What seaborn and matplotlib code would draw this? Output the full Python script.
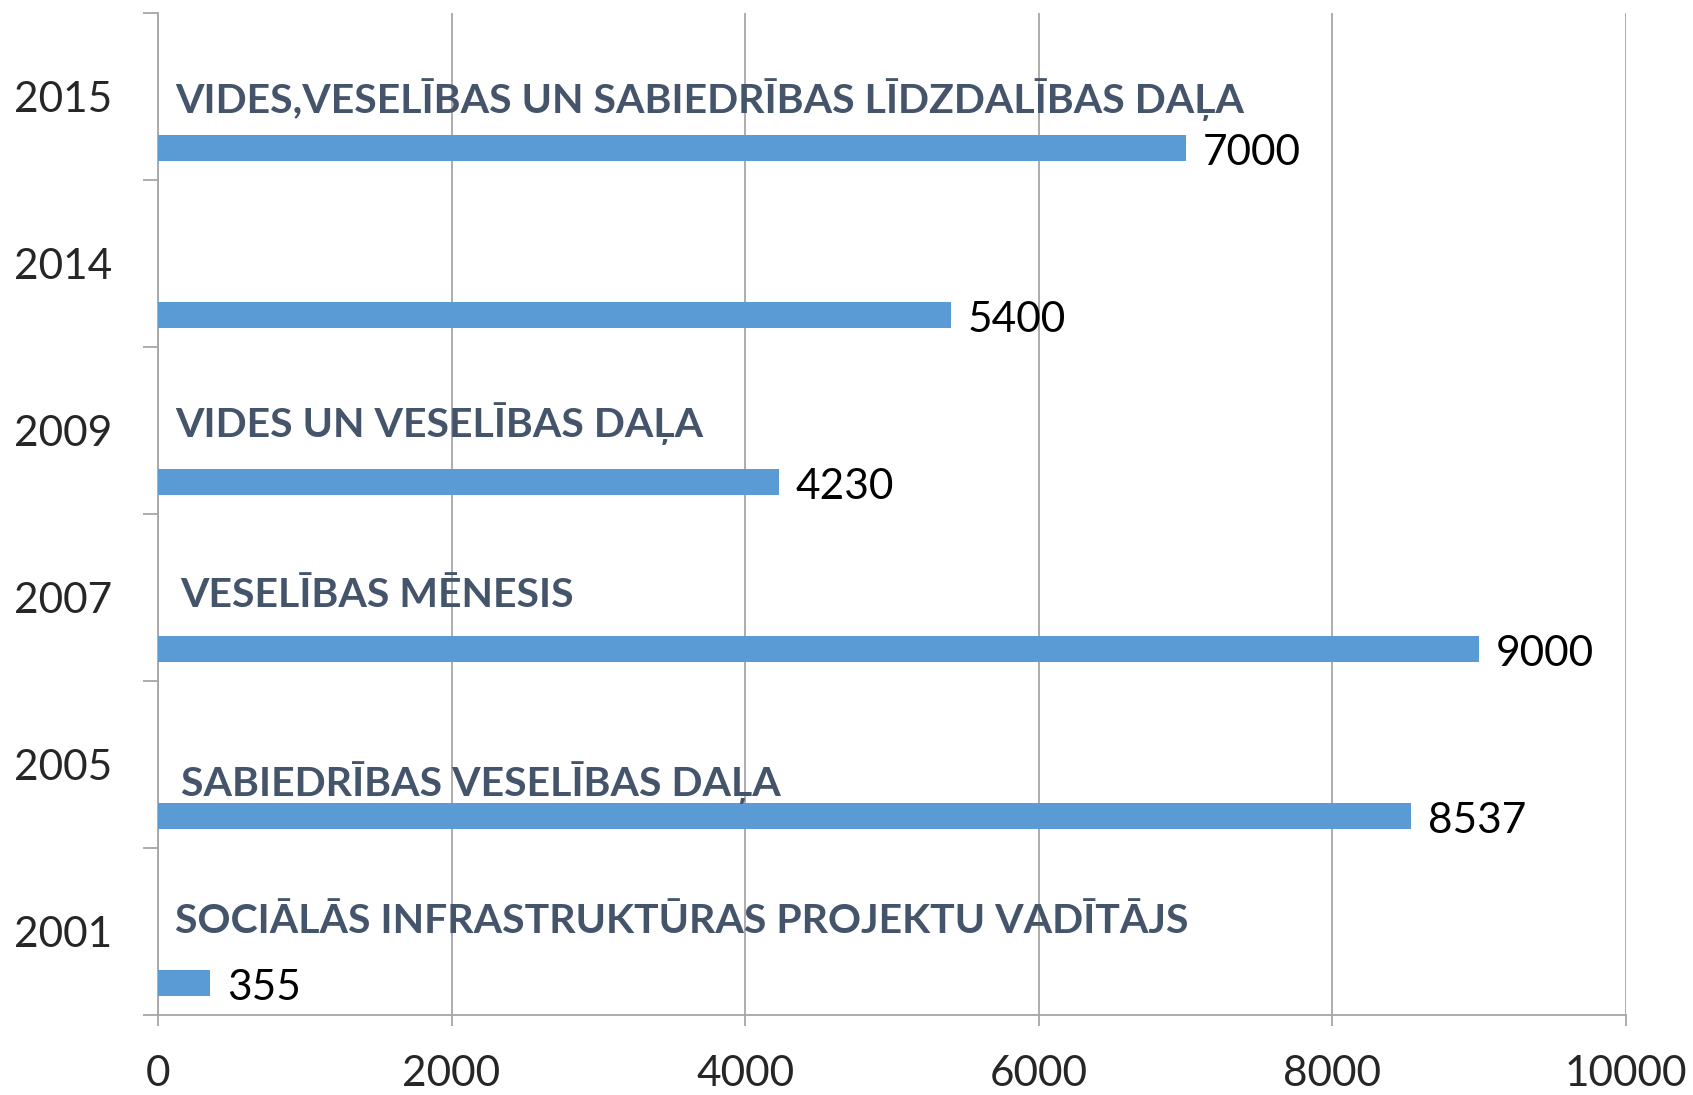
import seaborn as sns
import matplotlib.pyplot as plt
import pandas as pd

# dati
years = ["2015", "2014", "2009", "2007", "2005", "2001"]
values = [7000, 5400, 4230, 9000, 8537, 355]
titles = [
    "VIDES,VESELĪBAS UN SABIEDRĪBAS LĪDZDALĪBAS DAĻA",
    "",
    "VIDES UN VESELĪBAS DAĻA",
    "VESELĪBAS MĒNESIS",
    "SABIEDRĪBAS VESELĪBAS DAĻA",
    "SOCIĀLĀS INFRASTRUKTŪRAS PROJEKTU VADĪTĀJS",
]
x_ticks = [0, 2000, 4000, 6000, 8000, 10000]

df = pd.DataFrame({"gads": years, "vertiba": values})

sns.set_style("white")
plt.rcParams['font.family'] = ['Lato', 'DejaVu Sans']

fig = plt.figure(figsize=(16.93, 10.95), dpi=100)
ax = fig.add_axes([0.0933, 0.073, 0.8671, 0.915])

bar_h = 0.155
sns.barplot(df, x="vertiba", y="gads", order=years, color="#5B9BD5",
            width=bar_h, saturation=1, ax=ax, zorder=3)

# stabiņi nedaudz zem kategorijas centra (kā Excel)
shift = 0.307
for p in ax.patches:
    p.set_y(p.get_y() + shift)
    p.set_edgecolor("none")

# vērtību etiķetes
for i, v in enumerate(values):
    ax.text(v + 115, i + shift + 0.03, str(v), ha="left", va="center",
            fontsize=30.5, color="black", zorder=4)

# nosaukumu etiķetes
title_dy = [0.015, 0.0, -0.045, -0.015, 0.11, -0.06]
title_dx = [115, 115, 115, 155, 155, 115]
for i, t in enumerate(titles):
    if t:
        ax.text(title_dx[i], i + title_dy[i], t, ha="left", va="center",
                fontsize=29.5, fontweight="bold", color="#44546A", zorder=4)

ax.set_xlim(0, 10000)
ax.set_ylim(len(years) - 0.5, -0.5)
ax.set_xticks(x_ticks)
ax.set_xticklabels([str(x) for x in x_ticks], fontsize=30.5)
ax.tick_params(axis="x", length=8, width=1.3, color="#A6A6A6", pad=21,
               direction="out", bottom=True)

# y ass: atzīmes uz robežām, teksts centros
ax.set_yticks([i - 0.5 for i in range(len(years) + 1)])
ax.set_yticklabels([])
ax.set_yticks(range(len(years)), minor=True)
ax.set_yticklabels(years, minor=True, fontsize=30.5)
ax.tick_params(axis="y", which="major", length=11, width=1.3,
               color="#A6A6A6", direction="out", left=True)
ax.tick_params(axis="y", which="minor", length=0, pad=33)

ax.set_xlabel("")
ax.set_ylabel("")
ax.grid(axis="x", color="#A6A6A6", linewidth=1.3, zorder=0)
ax.grid(axis="y", visible=False)
for s in ["top", "right"]:
    ax.spines[s].set_visible(False)
for s in ["left", "bottom"]:
    ax.spines[s].set_color("#A6A6A6")
    ax.spines[s].set_linewidth(1.3)

plt.savefig("out.png", dpi=100)
